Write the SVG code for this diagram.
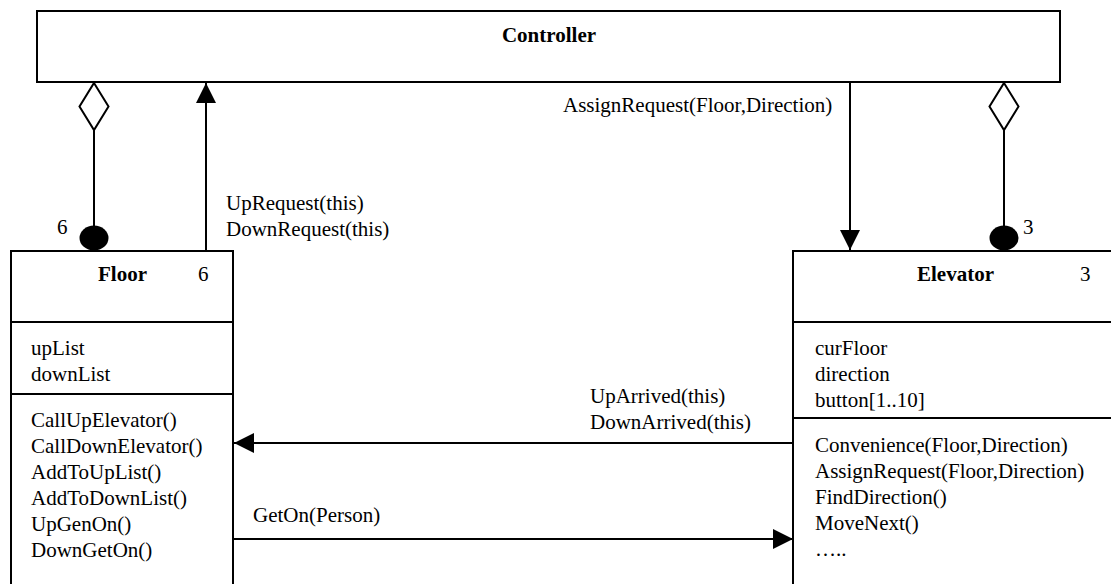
<svg xmlns="http://www.w3.org/2000/svg" width="1111" height="584" viewBox="0 0 1111 584">
<defs>
<style>
.box{fill:#fff;stroke:#000;stroke-width:2}
.ln{stroke:#000;stroke-width:2;fill:none}
text{font-family:"Liberation Serif","Times New Roman",serif;font-size:21px;fill:#000}
.b{font-weight:bold}
.dia{fill:#fff;stroke:#000;stroke-width:2}
.dot{fill:#000}
</style>
<marker id="tri" viewBox="0 0 20 20" refX="20" refY="10" markerWidth="20" markerHeight="20" markerUnits="userSpaceOnUse" orient="auto">
<path d="M0,0 L20,10 L0,20 Z" fill="#000"/>
</marker>
</defs>
<rect width="1111" height="584" fill="#fff"/>
<g id="controller">
<rect class="box" x="37" y="11" width="1023" height="71"/>
<text class="b" x="549" y="42" text-anchor="middle">Controller</text>
</g>
<g id="floor">
<rect class="box" x="11" y="251" width="222" height="350"/>
<line class="ln" x1="11" y1="322" x2="233" y2="322"/>
<line class="ln" x1="11" y1="394" x2="233" y2="394"/>
<text class="b" x="98" y="281">Floor</text>
<text x="198" y="281">6</text>
<text x="31" y="355">upList</text>
<text x="31" y="381">downList</text>
<text x="31" y="427">CallUpElevator()</text>
<text x="31" y="453">CallDownElevator()</text>
<text x="31" y="479">AddToUpList()</text>
<text x="31" y="505">AddToDownList()</text>
<text x="31" y="531">UpGenOn()</text>
<text x="31" y="557">DownGetOn()</text>
</g>
<g id="elevator">
<rect class="box" x="793" y="251" width="340" height="350"/>
<line class="ln" x1="793" y1="322" x2="1133" y2="322"/>
<line class="ln" x1="793" y1="418" x2="1133" y2="418"/>
<text class="b" x="917" y="281">Elevator</text>
<text x="1080" y="281">3</text>
<text x="815" y="355">curFloor</text>
<text x="815" y="381">direction</text>
<text x="815" y="407">button[1..10]</text>
<text x="815" y="452">Convenience(Floor,Direction)</text>
<text x="815" y="478">AssignRequest(Floor,Direction)</text>
<text x="815" y="504">FindDirection()</text>
<text x="815" y="530">MoveNext()</text>
<text x="815" y="556">…..</text>
</g>
<g id="connectors">
<line class="ln" x1="94" y1="130" x2="94" y2="226"/>
<path class="dia" d="M94,83 L108.5,106.5 L94,130 L79.5,106.5 Z"/>
<ellipse class="dot" cx="94" cy="238" rx="14.5" ry="12.5"/>
<text x="57" y="234">6</text>
<line class="ln" x1="206" y1="251" x2="206" y2="83" marker-end="url(#tri)"/>
<text x="226" y="210">UpRequest(this)</text>
<text x="226" y="236">DownRequest(this)</text>
<line class="ln" x1="850" y1="82" x2="850" y2="250" marker-end="url(#tri)"/>
<text x="563" y="112">AssignRequest(Floor,Direction)</text>
<line class="ln" x1="1004" y1="130" x2="1004" y2="226"/>
<path class="dia" d="M1004,83 L1018.5,106.5 L1004,130 L989.5,106.5 Z"/>
<ellipse class="dot" cx="1004" cy="238" rx="14.5" ry="12.5"/>
<text x="1023" y="234">3</text>
<line class="ln" x1="793" y1="443" x2="234" y2="443" marker-end="url(#tri)"/>
<text x="590" y="403">UpArrived(this)</text>
<text x="590" y="429">DownArrived(this)</text>
<line class="ln" x1="233" y1="539" x2="793" y2="539" marker-end="url(#tri)"/>
<text x="253" y="522">GetOn(Person)</text>
</g>
</svg>
